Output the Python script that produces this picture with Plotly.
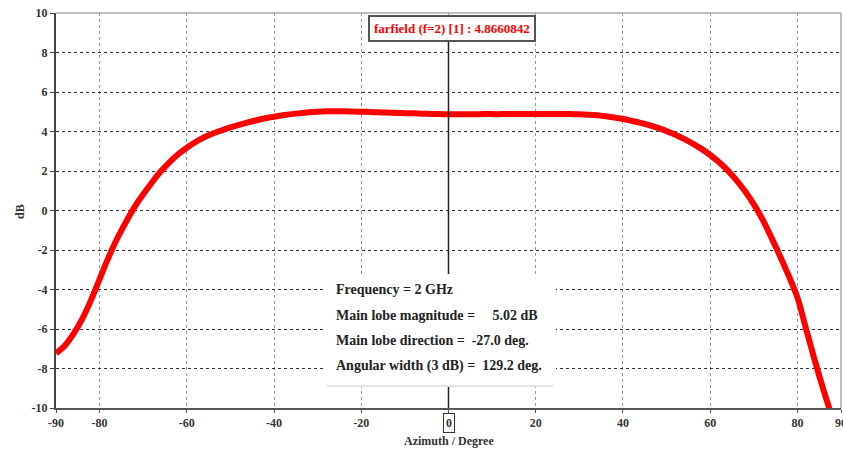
import plotly.graph_objects as go

# ---- data ----
azimuth = [-90, -88, -86, -84, -82, -80, -78, -76, -74, -72, -70, -68, -66, -64, -62, -60, -58, -56,
           -54, -52, -50, -48, -46, -44, -42, -40, -38, -36, -34, -32, -30, -28, -26, -24, -22, -20,
           -18, -16, -14, -12, -10, -8, -6, -4, -2, 0, 2, 4, 6, 8, 10, 12, 14, 16, 18, 20, 22, 24,
           26, 28, 30, 32, 34, 36, 38, 40, 42, 44, 46, 48, 50, 52, 54, 56, 58, 60, 62, 64, 66, 68,
           70, 72, 74, 76, 78, 80, 82, 84, 86, 88]
gain_db = [-7.23, -6.85, -6.25, -5.5, -4.55, -3.47, -2.4, -1.43, -0.6, 0.17, 0.82, 1.42, 1.97, 2.44,
           2.85, 3.18, 3.47, 3.71, 3.9, 4.06, 4.21, 4.34, 4.46, 4.57, 4.67, 4.75, 4.82, 4.88, 4.93,
           4.97, 5.0, 5.02, 5.02, 5.02, 5.01, 5.0, 4.99, 4.97, 4.96, 4.94, 4.93, 4.92, 4.9, 4.89,
           4.88, 4.87, 4.87, 4.87, 4.87, 4.88, 4.88, 4.88, 4.89, 4.89, 4.89, 4.89, 4.89, 4.89, 4.89,
           4.88, 4.87, 4.85, 4.82, 4.77, 4.71, 4.63, 4.54, 4.44, 4.32, 4.18, 4.02, 3.84, 3.63, 3.39,
           3.12, 2.81, 2.45, 2.03, 1.54, 0.97, 0.31, -0.45, -1.35, -2.3, -3.3, -4.4, -6.0, -7.6,
           -9.1, -10.5]

x_ticks = [-90, -80, -60, -40, -20, 0, 20, 40, 60, 80, 90]
x_tick_text = ["-90", "-80", "-60", "-40", "-20", "", "20", "40", "60", "80", "90"]
y_ticks = [-10, -8, -6, -4, -2, 0, 2, 4, 6, 8, 10]
y_tick_text = ["-10", "-8", "-6", "-4", "-2", "0", "2", "4", "6", "8", "10"]

x_title = "Azimuth / Degree"
y_title = "dB"
marker_label = "farfield (f=2) [1] : 4.8660842"
info_lines = [
    "Frequency = 2 GHz",
    "Main lobe magnitude =\u00a0\u00a0\u00a0\u00a0 5.02 dB",
    "Main lobe direction =\u00a0 -27.0 deg.",
    "Angular width (3 dB) =\u00a0 129.2 deg.",
]

FONT = "Liberation Serif, Times New Roman, serif"
L, R, T, B = 56, 2, 13, 42
PW, PH = 843 - L - R, 450 - T - B


def px(xpix):
    return (xpix - L) / PW


def py(ypix):
    return (450 - B - ypix) / PH


fig = go.Figure()
fig.add_trace(go.Scatter(
    x=azimuth, y=gain_db, mode="lines",
    line=dict(color="#ff0000", width=6, shape="spline", smoothing=1.0),
    hoverinfo="skip", showlegend=False,
))

fig.update_layout(
    width=843, height=450,
    margin=dict(l=L, r=R, t=T, b=B, autoexpand=False),
    plot_bgcolor="white", paper_bgcolor="white",
    font=dict(family=FONT, size=12, color="#222"),
    showlegend=False,
    xaxis=dict(
        range=[-90, 90], tickvals=x_ticks, ticktext=x_tick_text,
        tickfont=dict(family=FONT, size=12, color="#333", weight="bold"),
        showgrid=True, gridcolor="#9a9a9a", griddash="dot", gridwidth=1,
        showline=True, linecolor="#555", linewidth=2,
        ticks="outside", ticklen=3, tickcolor="#555",
        zeroline=False, automargin=False, ticklabeloverflow="allow",
    ),
    yaxis=dict(
        range=[-10, 10], tickvals=y_ticks, ticktext=y_tick_text,
        tickfont=dict(family=FONT, size=12, color="#333", weight="bold"),
        showgrid=True, gridcolor="#333", griddash="dot", gridwidth=1,
        showline=True, linecolor="#444", linewidth=2,
        ticks="outside", ticklen=4, tickcolor="#444",
        zeroline=False, automargin=False, ticklabeloverflow="allow",
    ),
)

shapes = [
    dict(type="line", xref="paper", yref="paper", x0=0, x1=1, y0=1, y1=1,
         line=dict(color="#aaaaaa", width=1.5), layer="above"),
    dict(type="line", xref="paper", yref="paper", x0=1, x1=1, y0=0, y1=1,
         line=dict(color="#aaaaaa", width=1.5), layer="above"),
    dict(type="line", xref="x", yref="y", x0=0, x1=0, y0=-10, y1=8.6,
         line=dict(color="#222", width=1.5), layer="above"),
    dict(type="rect", xref="paper", yref="paper",
         x0=px(325), x1=px(556), y0=py(386), y1=py(274),
         fillcolor="white", line=dict(color="white", width=0), layer="above"),
    dict(type="line", xref="paper", yref="paper",
         x0=px(327), x1=px(553), y0=py(386), y1=py(386),
         line=dict(color="#e4e4e4", width=2), layer="above"),
]
fig.update_layout(shapes=shapes)

annotations = [
    dict(x=0, y=1, xref="x", yref="paper", yanchor="top", xanchor="center", yshift=-2, xshift=3,
         text="<b>" + marker_label + "</b>", showarrow=False,
         font=dict(family=FONT, size=13, color="#ff0000"),
         bgcolor="white", bordercolor="#555", borderwidth=2, borderpad=4),
    dict(x=0, y=0, xref="x", yref="paper", yanchor="top", xanchor="center", yshift=-5,
         text="<b>0</b>", showarrow=False,
         font=dict(family=FONT, size=12, color="#333"),
         bgcolor="white", bordercolor="#333", borderwidth=1, borderpad=2),
    dict(x=px(449), y=py(441), xref="paper", yref="paper", xanchor="center", yanchor="middle",
         text="<b>" + x_title + "</b>", showarrow=False,
         font=dict(family=FONT, size=12, color="#333")),
    dict(x=px(20), y=py(212), xref="paper", yref="paper", xanchor="center", yanchor="middle",
         text="<b>" + y_title + "</b>", showarrow=False, textangle=-90,
         font=dict(family=FONT, size=12, color="#333")),
]
for txt, ypix in zip(info_lines, [289, 315, 340, 366]):
    annotations.append(dict(
        x=px(334), y=py(ypix), xref="paper", yref="paper",
        xanchor="left", yanchor="middle", showarrow=False,
        text="<b>" + txt + "</b>", font=dict(family=FONT, size=14, color="#222"),
    ))
fig.update_layout(annotations=annotations)

fig.write_html("out.html", config={"displayModeBar": False},
               post_script="document.body.style.margin='0px';")
